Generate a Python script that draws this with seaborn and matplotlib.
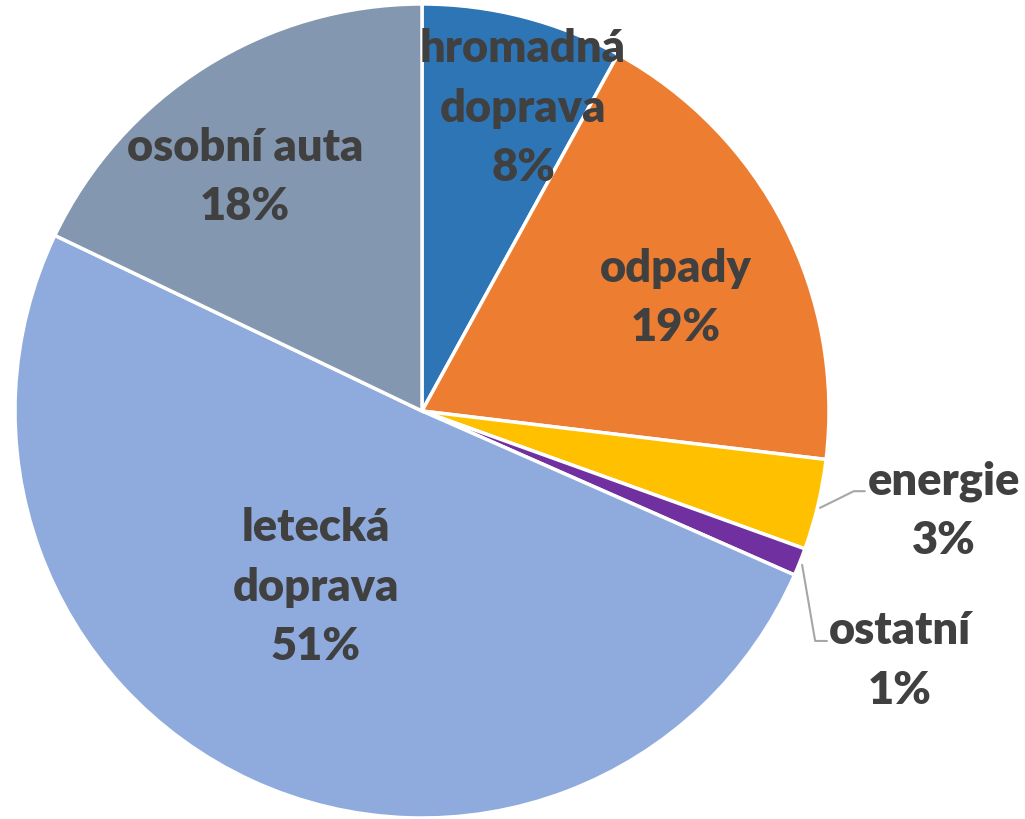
import numpy as np
import matplotlib
matplotlib.use("Agg")
from matplotlib import pyplot as plt
import seaborn as sb

# shares of emissions by category (clockwise from 12 o'clock)
categories = ['hromadná\ndoprava', 'odpady', 'energie', 'ostatní', 'letecká\ndoprava', 'osobní auta']
shares = [8.0, 18.9, 3.6, 1.1, 50.5, 17.9]
pct_labels = ['8%', '19%', '3%', '1%', '51%', '18%']
colors = ['#2E75B6', '#ED7D31', '#FFC000', '#7030A0', '#8FAADC', '#8497B0']

# label placement (radius, angle clockwise from top in degrees)
label_pos = [(0.787, 18.4), (0.684, 65.8), (1.305, 100.7), (1.324, 117.5), (0.503, 211.2), (0.723, 323)]

sb.set_style('white')
plt.rcParams['font.family'] = ['Lato', 'DejaVu Sans']

fig = plt.figure(figsize=(10.25, 8.2), dpi=100)
cx, cy, r = 422 / 1025, 1 - 412 / 820, 407
ax = fig.add_axes([cx - r / 1025, cy - r / 820, 2 * r / 1025, 2 * r / 820])

ax.pie(shares, colors=sb.color_palette(colors), startangle=90, counterclock=False,
       radius=1, wedgeprops=dict(edgecolor='white', linewidth=2.5))
ax.set_xlim(-1, 1)
ax.set_ylim(-1, 1)
ax.set_aspect('equal')
ax.axis('off')

txt_color = '#404040'
for cat, pct, (rad, ang) in zip(categories, pct_labels, label_pos):
    a = np.deg2rad(90 - ang)
    ax.text(rad * np.cos(a), rad * np.sin(a), cat + '\n' + pct, ha='center', va='center',
            fontsize=32.5, fontweight='heavy', color=txt_color, linespacing=1.55, clip_on=False)

# leader lines for small slices
ax.plot([0.978, 1.061, 1.088], [-0.238, -0.197, -0.197], color='#A6A6A6', lw=1.5, clip_on=False)
ax.plot([0.934, 0.966, 0.995], [-0.378, -0.565, -0.565], color='#A6A6A6', lw=1.5, clip_on=False)

fig.savefig('out.png', dpi=100)
